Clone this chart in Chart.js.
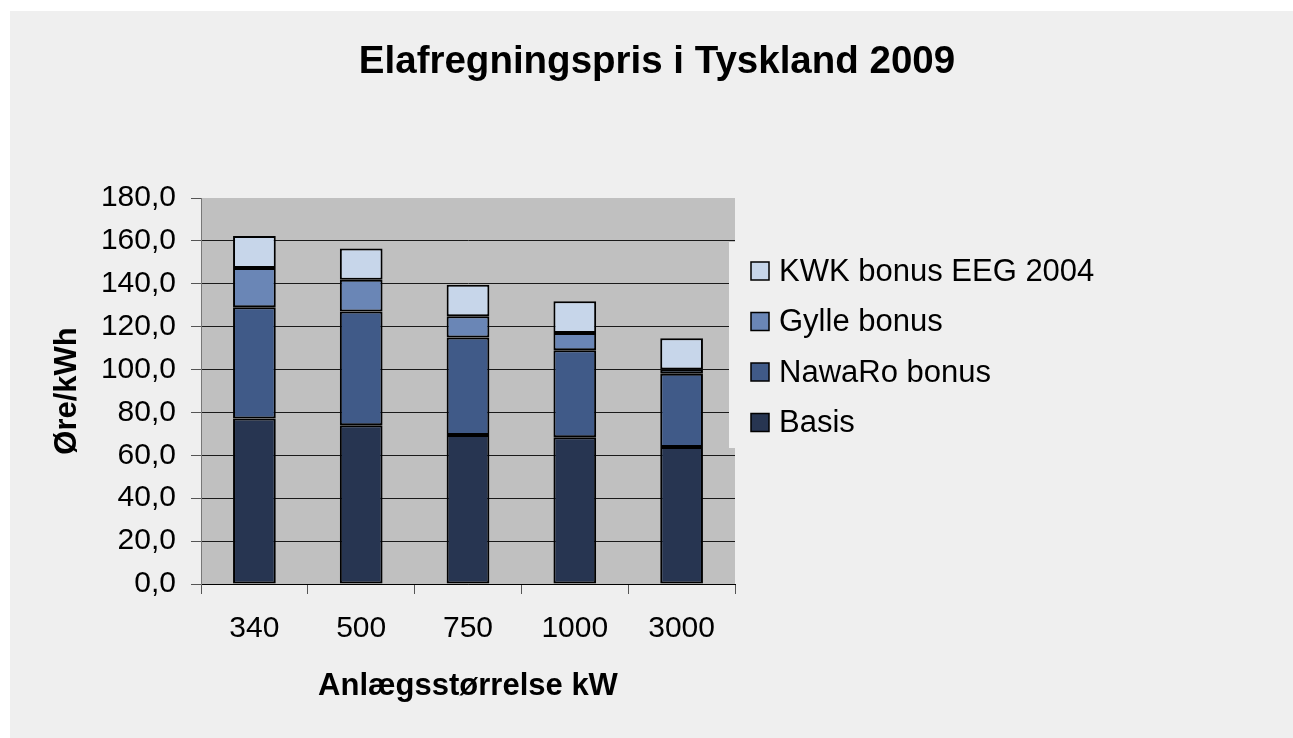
<!DOCTYPE html>
<html><head><meta charset="utf-8">
<script src="https://cdn.jsdelivr.net/npm/chart.js@4/dist/chart.umd.min.js"></script>
<style>html,body{margin:0;padding:0;background:#fff;overflow:hidden}#wrap{position:absolute;left:0;top:0;width:1293px;height:738px}</style>
</head><body><div id="wrap"><canvas id="c" width="1293" height="738"></canvas></div>
<script>
const categories = ['340', '500', '750', '1000', '3000'];
const basis  = [77.2, 74.0, 69.5, 68.4, 63.9];
const nawaro = [51.9, 53.1, 45.4, 40.6, 34.1];
const gylle  = [18.2, 14.8, 10.0, 8.0, 2.0];
const kwk    = [15.0, 14.5, 14.7, 14.8, 14.6];
const seriesNames = ['Basis', 'NawaRo bonus', 'Gylle bonus', 'KWK bonus EEG 2004'];
const seriesColors = ['#273551', '#405a88', '#6a86b6', '#c7d6ea'];
const yMin = 0, yMax = 180, yStep = 20;
const chartTitle = 'Elafregningspris i Tyskland 2009';
const xTitle = 'Anlægsstørrelse kW';
const yTitle = 'Øre/kWh';

const FONT = '"Liberation Sans", Arial, sans-serif';

const bgPlugin = {
  id: 'bg',
  beforeDraw(chart) {
    const ctx = chart.ctx, a = chart.chartArea;
    ctx.save();
    ctx.fillStyle = '#ffffff';
    ctx.fillRect(0, 0, chart.width, chart.height);
    ctx.fillStyle = '#efefef';
    ctx.fillRect(10, 11, chart.width - 10, chart.height - 11);
    ctx.fillStyle = '#c0c0c0';
    ctx.fillRect(a.left, a.top, a.right - a.left, a.bottom - a.top);
    ctx.restore();
  }
};

const overlayPlugin = {
  id: 'overlay',
  afterDraw(chart) {
    const ctx = chart.ctx;
    ctx.save();
    // title
    ctx.fillStyle = '#000';
    ctx.font = 'bold 38.5px ' + FONT;
    ctx.textAlign = 'center';
    ctx.textBaseline = 'middle';
    ctx.fillText(chartTitle, 657, 62);
    // legend
    ctx.fillStyle = '#efefef';
    ctx.fillRect(729, 242, 400, 206);
    const ds = chart.data.datasets;
    const startY = 271, gap = 50.5;
    ctx.font = '31px ' + FONT;
    ctx.textAlign = 'left';
    for (let i = 0; i < ds.length; i++) {
      const d = ds[ds.length - 1 - i];
      const cy = startY + i * gap;
      ctx.fillStyle = d.backgroundColor;
      ctx.fillRect(751, cy - 9, 18, 18);
      ctx.strokeStyle = '#000';
      ctx.lineWidth = 1.5;
      ctx.strokeRect(751, cy - 9, 18, 18);
      ctx.fillStyle = '#000';
      ctx.fillText(d.label, 779, cy + 1);
    }
    ctx.restore();
  }
};

const series = [basis, nawaro, gylle, kwk];
const datasets = series.map((vals, i) => ({
  label: seriesNames[i],
  data: vals,
  backgroundColor: seriesColors[i],
  borderColor: '#000',
  borderWidth: 2,
  borderSkipped: false,
  categoryPercentage: 1.0,
  barPercentage: 0.4
}));

new Chart(document.getElementById('c'), {
  type: 'bar',
  data: { labels: categories, datasets },
  plugins: [bgPlugin, overlayPlugin],
  options: {
    responsive: false,
    devicePixelRatio: 1,
    animation: false,
    layout: { padding: { left: 0, top: 198, right: 558, bottom: 0 } },
    plugins: { legend: { display: false }, title: { display: false }, tooltip: { enabled: false } },
    scales: {
      x: {
        stacked: true,
        afterFit(s) { s.height = 154; },
        grid: { offset: true, drawOnChartArea: false, drawTicks: true, tickLength: 10, color: '#555' },
        border: { color: '#000', width: 1 },
        ticks: { color: '#000', font: { family: FONT, size: 30 }, padding: 17 },
        title: { display: true, text: xTitle, color: '#000', font: { family: FONT, size: 31, weight: 'bold' }, padding: { top: 0, bottom: 33 } }
      },
      y: {
        stacked: true,
        min: yMin, max: yMax,
        afterFit(s) { s.width = 201; },
        grid: {
          color: (c) => (c.tick && c.tick.value === yMax) ? 'rgba(0,0,0,0)' : '#1a1a1a',
          tickColor: '#555', tickLength: 10, lineWidth: 1
        },
        border: { color: '#777', width: 1 },
        ticks: {
          stepSize: yStep, color: '#000', padding: 15,
          font: { family: FONT, size: 30 },
          callback: (v) => Number(v).toFixed(1).replace('.', ',')
        },
        title: { display: true, text: yTitle, color: '#000', font: { family: FONT, size: 31, weight: 'bold' }, padding: { top: 49, bottom: 0 } }
      }
    }
  }
});
</script></body></html>
